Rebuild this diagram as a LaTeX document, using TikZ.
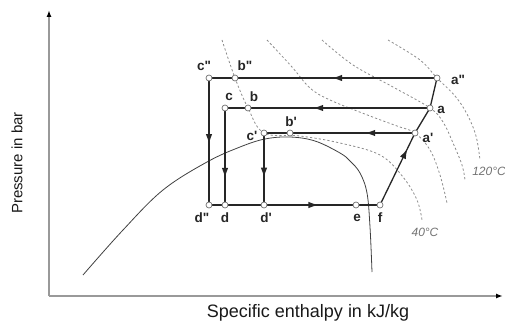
\documentclass[tikz,border=0pt]{standalone}
\usepackage{fontspec}
\setmainfont{Liberation Sans}
\usetikzlibrary{arrows.meta,decorations.markings}
\tikzset{
  axis/.style={draw=black!40,line width=1.4pt},
  flow/.style={draw=black!85,line width=1.3pt},
  iso/.style={draw=black!45,line width=0.8pt,dash pattern=on 2.2pt off 2.2pt},
  sat/.style={draw=black!75,line width=0.8pt},
  pt/.style={circle,draw=black!55,fill=white,line width=0.7pt,inner sep=0pt,minimum size=6pt},
  lbl/.style={font=\fontsize{13.5}{13.5}\selectfont\bfseries,text=black!85,inner sep=0pt},
  tlbl/.style={font=\fontsize{12}{12}\selectfont\itshape,text=black!55,inner sep=0pt},
  midarrow/.style={postaction={decorate},decoration={markings,mark=at position #1 with {\arrow{>}}}}
}
\begin{document}
\begin{tikzpicture}[x=1pt,y=-1pt,>={Latex[length=10pt,width=6.5pt]}]
\useasboundingbox (0,0) rectangle (505,323);
% axes
\coordinate (o) at (49,296);
\coordinate (ytop) at (49,10);
\coordinate (xend) at (503,296);
\draw[axis,-{Latex[length=7pt,width=5pt,color=black]}] (o) -- (ytop);
\draw[axis,-{Latex[length=7pt,width=5pt,color=black]}] (o) -- (xend);
\node[font=\fontsize{18}{18}\selectfont,text=black!90] (xlab) at (308,313) {Specific enthalpy in kJ/kg};
\node[rotate=90,font=\fontsize{15}{15}\selectfont,text=black!90] (ylab) at (17,163) {Pressure in bar};

% saturation curve
\draw[sat] plot[smooth,tension=0.6] coordinates {(83,275) (123,230) (163,190) (207,162) (240,147) (265,139) (290,137) (315,141) (340,153) (350,161) (360,173) (367,193) (370,227) (372,272)};

% isotherms
\draw[iso] plot[smooth,tension=0.6] coordinates {(222,40) (235,78) (248,108) (264,133) (300,136) (340,143) (380,155) (403,177) (417,200) (422,220)};
\draw[iso] plot[smooth,tension=0.6] coordinates {(267,40) (292,67) (310,88) (330,100) (370,116) (397,126) (415,133) (430,150) (440,175) (447,203)};
\draw[iso] plot[smooth,tension=0.6] coordinates {(322,40) (353,65) (393,87) (430,108) (443,122) (453,143) (462,165) (465,180)};
\draw[iso] plot[smooth,tension=0.6] coordinates {(388,40) (420,60) (437,78) (455,96) (467,114) (476,136) (480,160)};
\node[tlbl] (t40) at (425,232) {40°C};
\node[tlbl] (t120) at (489,171) {120°C};

% cycle points
\foreach \n/\x/\y in {a2/437/78, a/430/108, a1/415/133, f/380/205, e/356/205, d1/264/205, d/225/205, d2/209/205, c2/209/78, b2/235/78, c/225/108, b/248/108, c1/264/133, b1/290/133}
{
    \coordinate (\n) at (\x,\y);
}

\draw[flow,midarrow=0.46] (a2) -- (c2);
\draw[flow,midarrow=0.57] (a) -- (c);
\draw[flow,midarrow=0.33] (a1) -- (c1);
\draw[flow,midarrow=0.52] (c2) -- (d2);
\draw[flow,midarrow=0.72] (c) -- (d);
\draw[flow,midarrow=0.62] (c1) -- (d1);
\draw[flow,midarrow=0.64] (d2) -- (f);
\draw[flow,midarrow=0.78] (f) -- (a1);
\draw[flow] (a1) -- (a) -- (a2);

\foreach \n in {a2,a,a1,f,e,d1,d,d2,c2,b2,c,b,c1,b1}
{
    \node[pt] (p\n) at (\n) {};
}

% labels
\node[lbl] (la2) at (458,80) {a\textquotedbl};
\node[lbl] (la) at (441,110) {a};
\node[lbl] (la1) at (428,138) {a\textquotesingle};
\node[lbl] (lc2) at (204,66) {c\textquotedbl};
\node[lbl] (lb2) at (245,66) {b\textquotedbl};
\node[lbl] (lc) at (229,97) {c};
\node[lbl] (lb) at (254,97) {b};
\node[lbl] (lc1) at (252,136) {c\textquotesingle};
\node[lbl] (lb1) at (291,122) {b\textquotesingle};
\node[lbl] (ld2) at (202,218) {d\textquotedbl};
\node[lbl] (ld) at (225,218) {d};
\node[lbl] (ld1) at (266,218) {d\textquotesingle};
\node[lbl] (le) at (357,218) {e};
\node[lbl] (lf) at (380,218) {f};
\end{tikzpicture}
\end{document}
